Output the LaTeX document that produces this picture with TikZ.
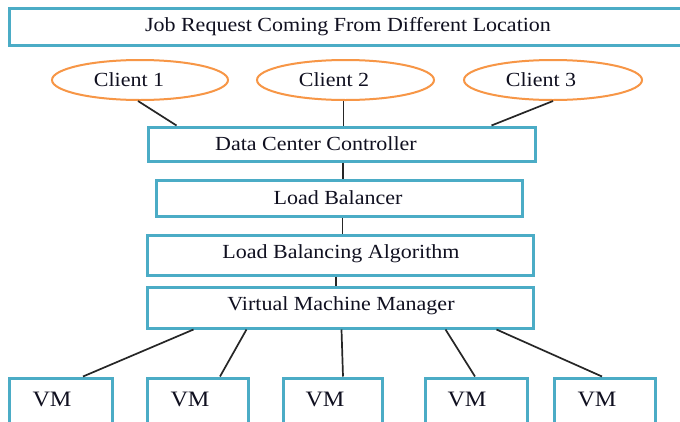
\documentclass[tikz,border=0pt]{standalone}
\usepackage{fontspec}
\setmainfont[FakeStretch=1.1]{Liberation Serif}
\usetikzlibrary{shapes.geometric,calc}
\definecolor{boxblue}{HTML}{4BACC6}
\definecolor{ellorange}{HTML}{F79646}
\definecolor{txtcol}{HTML}{101020}
\tikzset{
  box/.style={draw=boxblue, line width=3pt, fill=white, inner sep=0pt},
  cli/.style={draw=ellorange, line width=2pt, ellipse, fill=white, inner sep=0pt},
  lbl/.style={text=txtcol, font=\fontsize{20}{24}\selectfont, inner sep=0pt},
  vmlbl/.style={text=txtcol, font=\fontsize{22}{26}\selectfont, inner sep=0pt},
  conn/.style={draw=black!85, line width=1.7pt}
}
\begin{document}
\begin{tikzpicture}[x=1pt,y=-1pt]
\useasboundingbox (0,0) rectangle (680,421);
\clip (0,0) rectangle (680,421);
\fill[white] (0,0) rectangle (680,421);

% top banner (right edge lies outside the picture)
\node[box, minimum width=690pt, minimum height=37pt] (top) at (354,26.5) {};
\node[lbl] (toplbl) at (348,27) {Job Request Coming From Different Location};

% clients
\node[cli, minimum width=176pt, minimum height=40pt] (c1) at (140,80) {};
\node[lbl] (c1lbl) at (129,80) {Client 1};
\node[cli, minimum width=177pt, minimum height=40pt] (c2) at (345.5,80) {};
\node[lbl] (c2lbl) at (334,80) {Client 2};
\node[cli, minimum width=178pt, minimum height=40pt] (c3) at (553,80) {};
\node[lbl] (c3lbl) at (541,80) {Client 3};

% stack
\node[box, minimum width=387pt, minimum height=34pt] (dcc) at (341.5,144) {};
\node[lbl] (dcclbl) at (316,144) {Data Center Controller};
\node[box, minimum width=366pt, minimum height=36pt] (lb) at (339,198) {};
\node[lbl] (lblbl) at (338,198) {Load Balancer};
\node[box, minimum width=386pt, minimum height=40pt] (lba) at (340,255) {};
\node[lbl] (lbalbl) at (341,254) {Load Balancing Algorithm};
\node[box, minimum width=386pt, minimum height=41pt] (vmm) at (340,307.5) {};
\node[lbl] (vmmlbl) at (341,306) {Virtual Machine Manager};

% VMs (bottom edges lie outside the picture)
\node[box, minimum width=103pt, minimum height=56pt] (vm1) at (60.5,406) {};
\node[vmlbl] (vm1lbl) at (52,399) {VM};
\node[box, minimum width=101pt, minimum height=56pt] (vm2) at (197.5,406) {};
\node[vmlbl] (vm2lbl) at (190,399) {VM};
\node[box, minimum width=99pt, minimum height=56pt] (vm3) at (332.5,406) {};
\node[vmlbl] (vm3lbl) at (325,399) {VM};
\node[box, minimum width=102pt, minimum height=56pt] (vm4) at (476,406) {};
\node[vmlbl] (vm4lbl) at (467,399) {VM};
\node[box, minimum width=101pt, minimum height=56pt] (vm5) at (604.5,406) {};
\node[vmlbl] (vm5lbl) at (597,399) {VM};

% connectors
\draw[conn] ([xshift=-2pt]c1.south) -- ([xshift=30pt]dcc.north west);
\draw[conn] ([xshift=-2pt]c2.south) -- ([xshift=-2pt]c2.south |- dcc.north);
\draw[conn] (c3.south) -- ([xshift=-45pt]dcc.north east);
\draw[conn] ([xshift=1.5pt]dcc.south) -- ([xshift=1.5pt]dcc.south |- lb.north);
\draw[conn] ([xshift=3.5pt]lb.south) -- ([xshift=3.5pt]lb.south |- lba.north);
\draw[conn] ([xshift=-4pt]lba.south) -- ([xshift=-4pt]lba.south |- vmm.north);
\draw[conn] ([xshift=48pt]vmm.south west) -- ([xshift=22.5pt]vm1.north);
\draw[conn] ([xshift=101pt]vmm.south west) -- ([xshift=22.5pt]vm2.north);
\draw[conn] ([xshift=196pt]vmm.south west) -- ([xshift=10.5pt]vm3.north);
\draw[conn] ([xshift=300pt]vmm.south west) -- ([xshift=-1pt]vm4.north);
\draw[conn] ([xshift=351pt]vmm.south west) -- ([xshift=-2.5pt]vm5.north);
\end{tikzpicture}
\end{document}
